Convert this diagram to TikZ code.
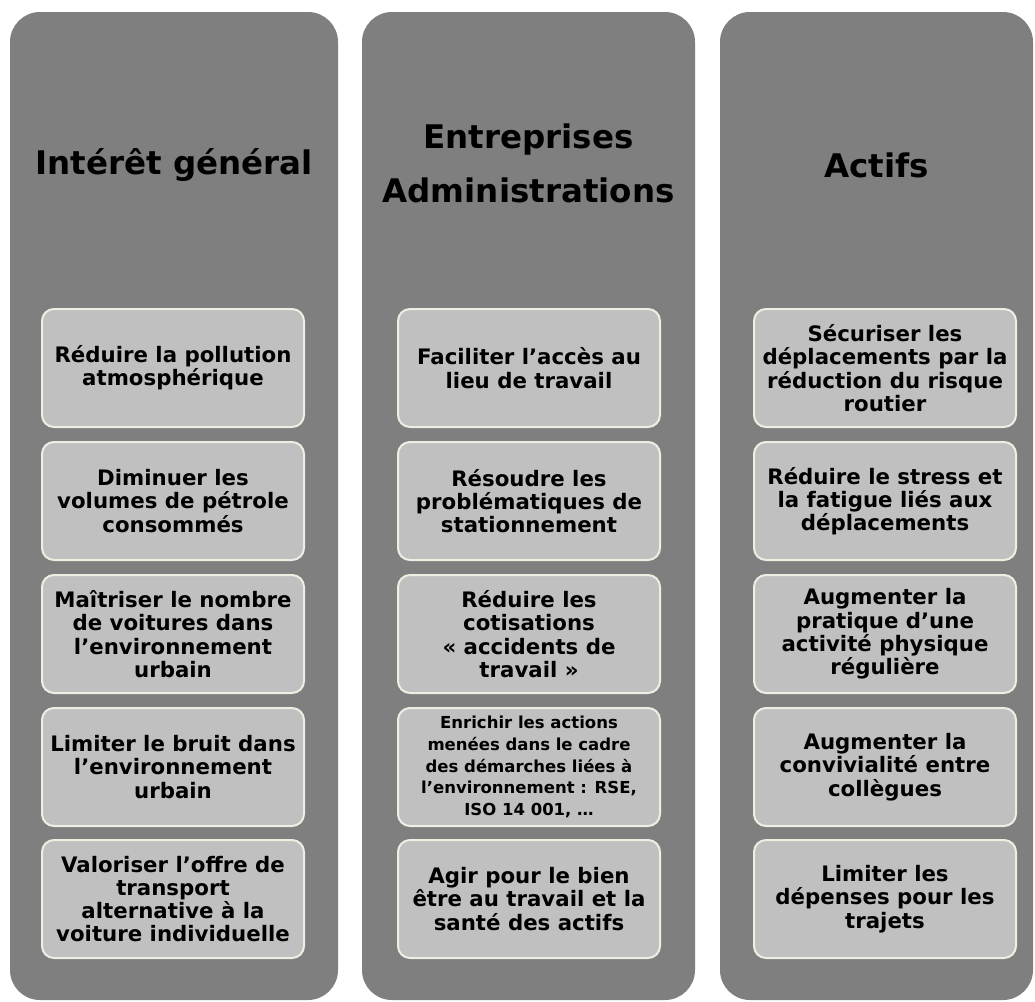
\documentclass[tikz,border=0pt]{standalone}
\usepackage{fontspec}
\setmainfont{DejaVu Sans}
\definecolor{colgray}{RGB}{127,127,127}
\definecolor{boxgray}{RGB}{192,192,192}
\definecolor{boxline}{RGB}{240,238,226}
\tikzset{
  column/.style={fill=colgray, rounded corners=30pt, minimum height=988pt, inner sep=0pt},
  title/.style={font=\fontsize{32.5}{54}\selectfont\bfseries, align=center},
  item/.style={draw=boxline, line width=2pt, fill=boxgray, rounded corners=12pt,
    minimum width=262pt, minimum height=118pt, inner sep=1pt, align=center,
    font=\fontsize{21.3}{23.3}\selectfont\bfseries},
  small/.style={font=\fontsize{16.5}{21.7}\selectfont\bfseries}
}
\begin{document}
\begin{tikzpicture}[x=1pt, y=-1pt]
    \fill[white] (0,0) rectangle (1035,1001);
    % columns
    \node[column, minimum width=328pt] (ColGeneral) at (174,506) {};
    \node[column, minimum width=333pt] (ColEntreprises) at (528.5,506) {};
    \node[column, minimum width=313pt] (ColActifs) at (876.5,506) {};
    \node[title] (General) at (174,165) {Intérêt général};
    \node[title] (Entreprises) at (528.5,163) {Entreprises\\Administrations};
    \node[title] (Actifs) at (876.5,165) {Actifs};
    % Intérêt général
    \node[item] (Pollution) at (173,368) {Réduire la pollution\\atmosphérique};
    \node[item] (Petrole) at (173,501) {Diminuer les\\volumes de pétrole\\consommés};
    \node[item] (Voitures) at (173,634) {Maîtriser le nombre\\de voitures dans\\l’environnement\\urbain};
    \node[item] (Bruit) at (173,767) {Limiter le bruit dans\\l’environnement\\urbain};
    \node[item] (Offre) at (173,899) {Valoriser l’offre de\\transport\\alternative à la\\voiture individuelle};
    % Entreprises Administrations
    \node[item] (Acces) at (529,368) {Faciliter l’accès au\\lieu de travail};
    \node[item] (Stationnement) at (529,501) {Résoudre les\\problématiques de\\stationnement};
    \node[item] (Cotisations) at (529,634) {Réduire les\\cotisations\\« accidents de\\travail »};
    \node[item, small] (Demarches) at (529,767) {Enrichir les actions\\menées dans le cadre\\des démarches liées à\\l’environnement : RSE,\\ISO 14 001, …};
    \node[item] (BienEtre) at (529,899) {Agir pour le bien\\être au travail et la\\santé des actifs};
    % Actifs
    \node[item] (Risque) at (885,368) {Sécuriser les\\déplacements par la\\réduction du risque\\routier};
    \node[item] (Stress) at (885,501) {Réduire le stress et\\la fatigue liés aux\\déplacements};
    \node[item] (Activite) at (885,634) {Augmenter la\\pratique d’une\\activité physique\\régulière};
    \node[item] (Convivialite) at (885,767) {Augmenter la\\convivialité entre\\collègues};
    \node[item] (Depenses) at (885,899) {Limiter les\\dépenses pour les\\trajets};
\end{tikzpicture}
\end{document}
